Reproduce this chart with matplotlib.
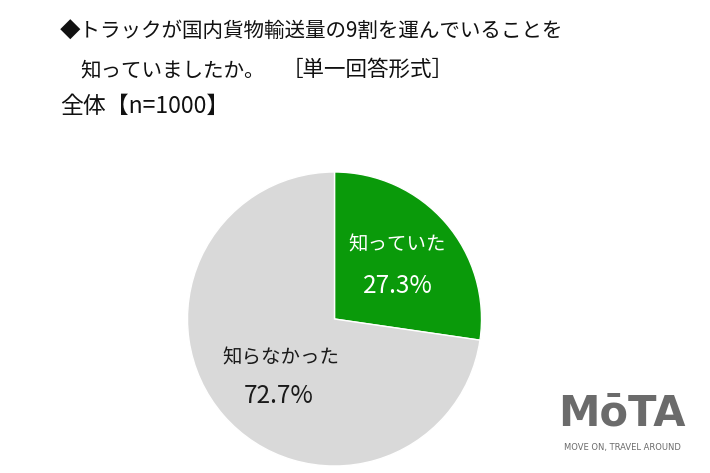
import matplotlib
matplotlib.use("Agg")
import matplotlib.pyplot as plt

plt.rcParams['font.family'] = ['Noto Sans CJK JP', 'DejaVu Sans']

labels = ["知っていた", "知らなかった"]
values = [27.3, 72.7]
colors = ["#0A9A0A", "#D9D9D9"]
title_lines = ["◆トラックが国内貨物輸送量の9割を運んでいることを",
               "知っていましたか。",
               "［単一回答形式］",
               "全体【n=1000】"]

W, H = 710, 473
fig = plt.figure(figsize=(W / 100, H / 100), dpi=100)
fig.patch.set_facecolor("white")

cx, cy, r = 334.5, 319, 147
ax = fig.add_axes([(cx - r) / W, (H - cy - r) / H, 2 * r / W, 2 * r / H])
wedges, _ = ax.pie(values, colors=colors, startangle=90, counterclock=False,
                   wedgeprops=dict(edgecolor="white", linewidth=1.0))
ax.set_aspect("equal")
ax.set_xlim(-1, 1)
ax.set_ylim(-1, 1)
ax.axis("off")

def px(x, y):
    return x / W, 1 - y / H

fig.text(*px(397, 245), labels[0], ha="center", va="center", fontsize=14, color="white")
fig.text(*px(398, 286), f"{values[0]}%", ha="center", va="center", fontsize=17.5, color="white")
fig.text(*px(281, 358), labels[1], ha="center", va="center", fontsize=14, color="#1a1a1a")
fig.text(*px(279, 396), f"{values[1]}%", ha="center", va="center", fontsize=17.5, color="#1a1a1a")

fig.text(*px(60, 32), title_lines[0], ha="left", va="center", fontsize=14.8, color="#111111")
fig.text(*px(80, 70), title_lines[1], ha="left", va="center", fontsize=14.8, color="#111111")
fig.text(*px(282, 70), title_lines[2], ha="left", va="center", fontsize=15.5, color="#111111")
fig.text(*px(60, 106), title_lines[3], ha="left", va="center", fontsize=16.5, color="#111111")

fig.text(*px(622, 413), "MōTA", ha="center", va="center", fontsize=30, fontweight="bold",
         color="#6b6b6b", family=["DejaVu Sans"])
fig.text(*px(622, 447), "MOVE ON, TRAVEL AROUND", ha="center", va="center", fontsize=6,
         color="#6b6b6b", family=["DejaVu Sans"])

fig.savefig("out.png", dpi=100)
